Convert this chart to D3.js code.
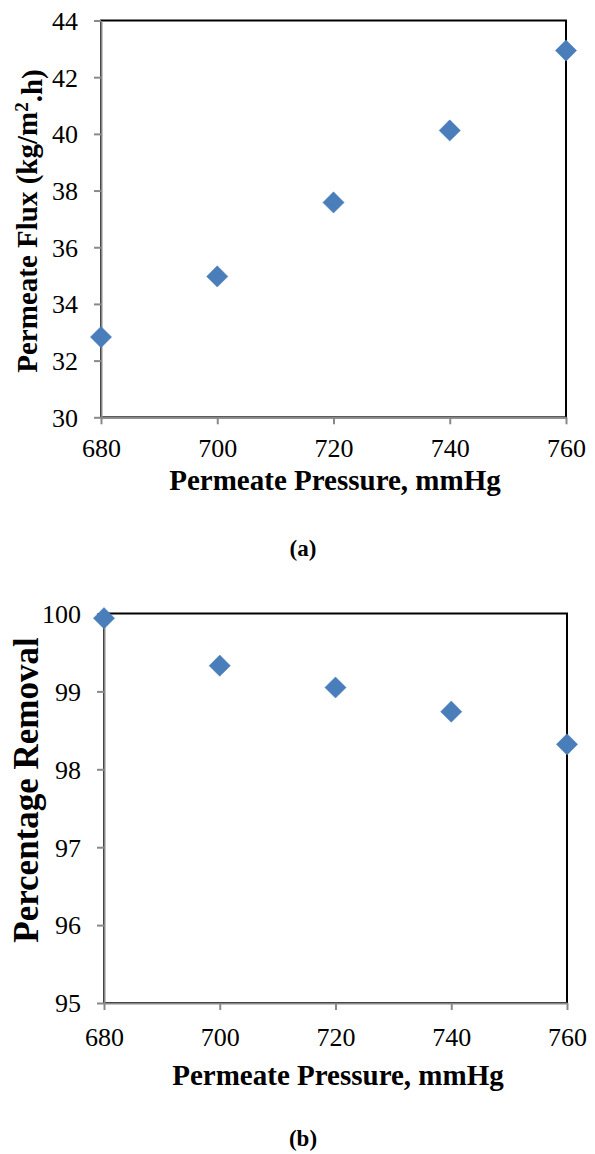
<!DOCTYPE html>
<html><head><meta charset="utf-8">
<script src="https://cdn.jsdelivr.net/npm/d3@7"></script>
<style>html,body{margin:0;padding:0;background:#fff;}svg{display:block;}</style>
</head><body>
<svg id="c" width="595" height="1154"></svg>
<script>
const pressure = [680, 700, 720, 740, 760];
const flux = [32.83, 34.97, 37.58, 40.12, 42.94];
const removal = [99.94, 99.33, 99.05, 98.74, 98.32];
const xTicks = [680, 700, 720, 740, 760];
const fluxTicks = [30, 32, 34, 36, 38, 40, 42, 44];
const removalTicks = [95, 96, 97, 98, 99, 100];

const svg = d3.select("#c");
const FONT = "Liberation Serif, Times New Roman, serif";
const BLUE = "#4a7ebb";
const GRAY = "#898989";

function panel(o) {
  const g = svg.append("g");
  const x = d3.scaleLinear().domain([680, 760]).range([o.left, o.right]);
  const y = d3.scaleLinear().domain(o.ydom).range([o.bottom, o.top]);
  g.append("rect").attr("x", o.left).attr("y", o.top)
    .attr("width", o.right - o.left).attr("height", o.bottom - o.top)
    .attr("fill", "none").attr("stroke", "#000").attr("stroke-width", 2);
  const ax = g.append("g").attr("transform", `translate(0,${o.bottom})`)
    .call(d3.axisBottom(x).tickValues(xTicks).tickSize(7).tickPadding(o.xpad).tickSizeOuter(0).tickFormat(d3.format("d")));
  const ay = g.append("g").attr("transform", `translate(${o.left},0)`)
    .call(d3.axisLeft(y).tickValues(o.yticks).tickSize(7).tickPadding(16).tickSizeOuter(0).tickFormat(d3.format("d")));
  [ax, ay].forEach(a => {
    a.attr("font-family", FONT).attr("font-size", 26);
    a.select(".domain").attr("stroke", GRAY).attr("stroke-width", 2);
    a.selectAll(".tick line").attr("stroke", GRAY).attr("stroke-width", 2);
    a.selectAll(".tick text").attr("fill", "#000");
  });
  ay.selectAll(".tick text").attr("dy", "0.34em");
  g.selectAll("path.pt").data(o.vals).enter().append("path").attr("class", "pt")
    .attr("d", d3.symbol(d3.symbolSquare, 225))
    .attr("transform", (d, i) => `translate(${x(pressure[i])},${y(d)}) rotate(45)`)
    .attr("fill", BLUE).attr("stroke", BLUE).attr("stroke-width", 0.5);
  g.append("text").attr("x", o.xtx).attr("y", o.xty).attr("text-anchor", "middle")
    .attr("font-family", FONT).attr("font-size", 29).attr("font-weight", "bold")
    .text("Permeate Pressure, mmHg");
  const yt = g.append("text").attr("transform", `translate(${o.ytx},${o.yty}) rotate(-90)`)
    .attr("text-anchor", "middle")
    .attr("font-family", FONT).attr("font-size", o.ytsize).attr("font-weight", "bold");
  o.ytitle(yt);
  g.append("text").attr("x", 303).attr("y", o.lab_y).attr("text-anchor", "middle")
    .attr("font-family", FONT).attr("font-size", 23).attr("font-weight", "bold")
    .text(o.label);
}

panel({
  left: 101, right: 566, top: 20.5, bottom: 417.3,
  ydom: [30, 44], yticks: fluxTicks, vals: flux, xpad: 14,
  xtx: 335, xty: 490, ytx: 37, yty: 221, ytsize: 29,
  ytitle: t => {
    t.append("tspan").text("Permeate Flux (kg/m");
    t.append("tspan").attr("dy", "-0.45em").attr("font-size", 19).text("2");
    t.append("tspan").attr("dy", "0.45em").text(".h)");
  },
  lab_y: 556, label: "(a)"
});

panel({
  left: 104, right: 567, top: 613.5, bottom: 1003,
  ydom: [95, 100], yticks: removalTicks, vals: removal, xpad: 18,
  xtx: 338, xty: 1085, ytx: 38, yty: 790, ytsize: 35,
  ytitle: t => t.text("Percentage Removal"),
  lab_y: 1146, label: "(b)"
});
</script>
</body></html>
